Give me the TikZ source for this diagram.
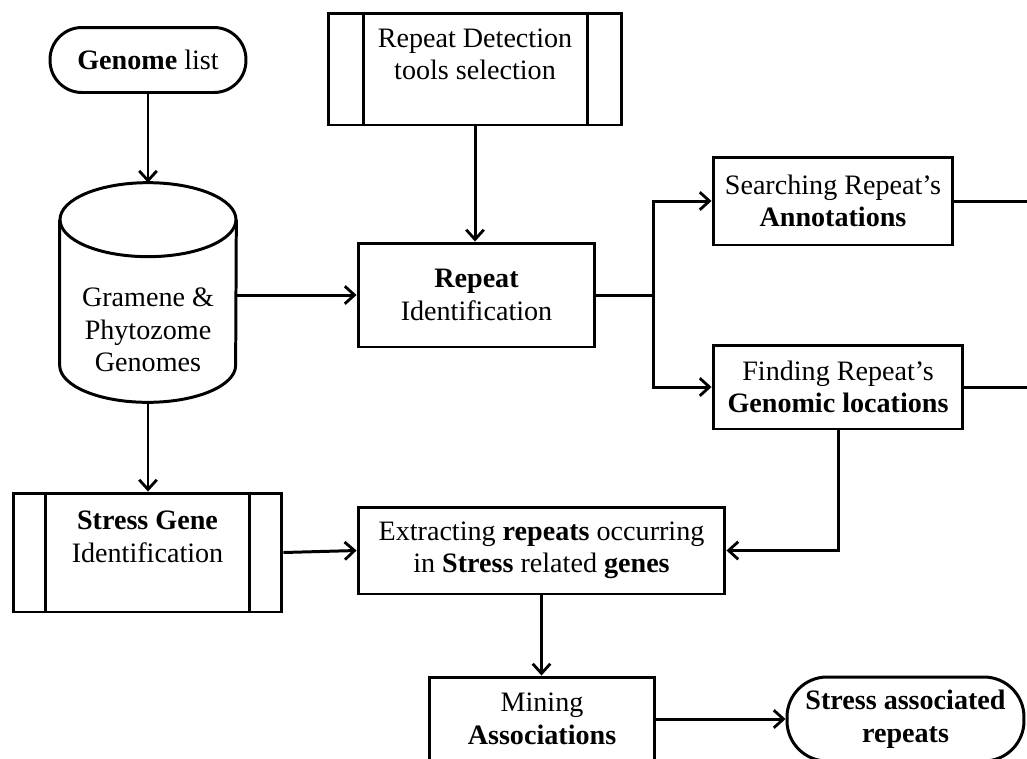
\documentclass[tikz,border=0pt]{standalone}
\usepackage{fontspec}
\setmainfont{Liberation Serif}
\usetikzlibrary{arrows.meta}
%% looks that come back again and again
\tikzset{
  block/.style={draw, line width=1.7pt, align=center, inner sep=0pt},
  term/.style={block, rounded corners=0.64cm},
  link/.style={line width=1.7pt},
  flow/.style={link, -{Straight Barb[length=5.5pt,width=10pt,line width=1.6pt]}},
}
\begin{document}
\begin{tikzpicture}[x=0.02cm, y=0.02cm, font=\fontsize{16}{18.5}\selectfont]
        %% the frame of the whole picture, in pixels of the original
        \clip (0,0) rectangle (1027,-758);
        %% left column
        \node[term, minimum width=3.92cm, minimum height=1.3cm] (genome) at (148,-60) {\textbf{Genome} list};
        \node[inner sep=0pt, minimum width=3.52cm, minimum height=4.38cm,
              label={[align=center, yshift=-0.75cm]center:Gramene \&\\Phytozome\\Genomes}] (db) at (148,-292.5) {};
        %% the cylinder is drawn by hand round the db node
        \draw[link] ([yshift=-0.74cm]db.north) ellipse [x radius=1.76cm, y radius=0.74cm];
        \draw[link] ([yshift=-0.74cm]db.north west) -- ([yshift=0.74cm]db.south west)
              arc [start angle=180, end angle=360, x radius=1.76cm, y radius=0.74cm]
              -- ([yshift=-0.74cm]db.north east);
        \node[block, minimum width=5.38cm, minimum height=2.38cm] (stress) at (147.5,-552.5) {\textbf{Stress Gene}\\Identification\\[-6pt]\strut};
        \draw[link] ([xshift=0.68cm]stress.north west) -- ([xshift=0.68cm]stress.south west);
        \draw[link] ([xshift=-0.68cm]stress.north east) -- ([xshift=-0.68cm]stress.south east);
        %% middle column
        \node[block, minimum width=5.88cm, minimum height=2.24cm] (tools) at (475,-69) {Repeat Detection\\tools selection\\[-7pt]\strut};
        \draw[link] ([xshift=0.74cm]tools.north west) -- ([xshift=0.74cm]tools.south west);
        \draw[link] ([xshift=-0.72cm]tools.north east) -- ([xshift=-0.72cm]tools.south east);
        \node[block, minimum width=4.74cm, minimum height=2.08cm] (repid) at (476.5,-295) {\textbf{Repeat}\\Identification};
        \node[block, minimum width=7.34cm, minimum height=1.74cm] (extract) at (541.5,-550.5) {Extracting \textbf{repeats} occurring\\in \textbf{Stress} related \textbf{genes}};
        \node[block, minimum width=4.52cm, minimum height=1.68cm] (mining) at (542,-719) {Mining\\\textbf{Associations}};
        %% right column
        \node[block, minimum width=4.8cm, minimum height=1.76cm] (annot) at (833,-201) {Searching Repeat’s\\\textbf{Annotations}};
        \node[block, minimum width=5cm, minimum height=1.68cm] (genloc) at (838,-387) {Finding Repeat’s\\\textbf{Genomic locations}};
        \node[term, rounded corners=0.8cm, minimum width=4.74cm, minimum height=1.68cm] (result) at (905.5,-719) {\textbf{Stress associated}\\\textbf{repeats}};
        %% free ends that run out of the frame
        \coordinate (split) at (653,-295);
        \coordinate (annotout) at (1040,-201);
        \coordinate (genlocout) at (1040,-387);
        %% connectors
        \draw[flow] (genome.south) -- (db.north);
        \draw[flow] (db.east |- repid.west) -- (repid.west);
        \draw[flow] (db.south) -- (db.south |- stress.north);
        \draw[flow] (tools.south) -- (tools.south |- repid.north);
        \draw[link] (repid.east) -- (split);
        \draw[flow] (split) |- (annot.west);
        \draw[flow] (split) |- (genloc.west);
        \draw[link] (annot.east) -- (annotout);
        \draw[link] (genloc.east) -- (genlocout);
        \draw[flow] (genloc.south) |- (extract.east);
        \draw[flow] (stress.east) -- (extract.west);
        \draw[flow] (extract.south) -- (extract.south |- mining.north);
        \draw[flow] (mining.east) -- (result.west);
\end{tikzpicture}
\end{document}
